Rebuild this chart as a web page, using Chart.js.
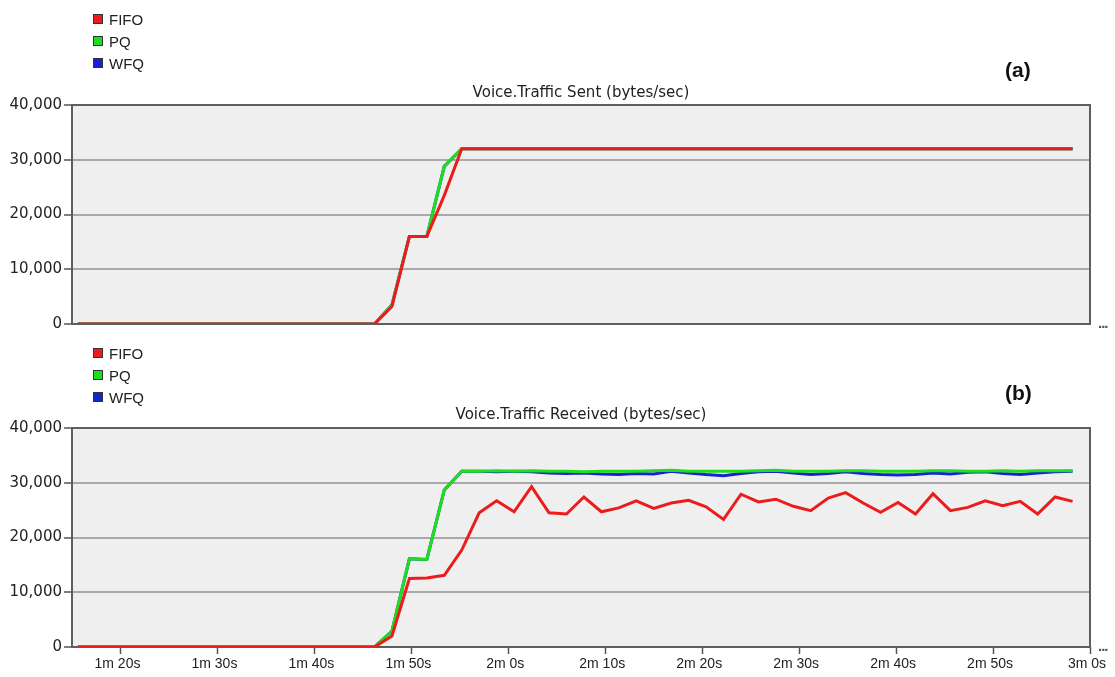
<!DOCTYPE html>
<html>
<head>
<meta charset="utf-8">
<script src="https://cdn.jsdelivr.net/npm/chart.js@4/dist/chart.umd.min.js"></script>
<style>
  body { margin: 0; background: #fff; font-family: "Liberation Sans", Arial, sans-serif; }
  #page { position: relative; width: 1115px; height: 677px; overflow: hidden; }
  canvas { position: absolute; left: 0; }
  #sent { top: 0; }
  #recv { top: 338px; }
  .legend { position: absolute; left: 93px; font-size: 15px; color: #222; }
  .legend div { display: flex; align-items: center; height: 22px; }
  .legend span { display: inline-block; width: 8px; height: 8px; border: 1px solid #333; margin-right: 6px; }
  .panel { position: absolute; left: 1005px; font-size: 21px; font-weight: bold; color: #111; line-height: 24px; }
  .more { position: absolute; left: 1098px; font-size: 15px; font-weight: bold; color: #555; letter-spacing: -1px; }
</style>
</head>
<body>
<div id="page">
  <canvas id="sent" width="1115" height="338"></canvas>
  <canvas id="recv" width="1115" height="339"></canvas>
  <div class="legend" id="legendSent" style="top:8px"></div>
  <div class="legend" id="legendRecv" style="top:342px"></div>
  <div class="panel" style="top:58px">(a)</div>
  <div class="panel" style="top:381px">(b)</div>
  <div class="more" style="top:314px">...</div>
  <div class="more" style="top:637px">...</div>
</div>
<script>
// sample times in seconds (one value every 1.8 s)
var times = [75.6, 77.4, 79.2, 81.0, 82.8, 84.6, 86.4, 88.2, 90.0, 91.8, 93.6, 95.4, 97.2, 99.0, 100.8, 102.6, 104.4, 106.2,
    108.0, 109.8, 111.6, 113.4, 115.2, 117.0, 118.8, 120.6, 122.4, 124.2, 126.0, 127.8, 129.6, 131.4, 133.2, 135.0,
    136.8, 138.6, 140.4, 142.2, 144.0, 145.8, 147.6, 149.4, 151.2, 153.0, 154.8, 156.6, 158.4, 160.2, 162.0, 163.8,
    165.6, 167.4, 169.2, 171.0, 172.8, 174.6, 176.4, 178.2];

var tickSeconds = [80, 90, 100, 110, 120, 130, 140, 150, 160, 170, 180];
var tickLabels = ['1m 20s', '1m 30s', '1m 40s', '1m 50s', '2m 0s', '2m 10s', '2m 20s', '2m 30s', '2m 40s', '2m 50s', '3m 0s'];
var valueTicks = [0, 10000, 20000, 30000, 40000];

var seriesNames = ['FIFO', 'PQ', 'WFQ'];
var seriesColors = ['rgb(236,28,28)', 'rgb(30,222,30)', 'rgb(22,34,214)'];

// (a) Voice.Traffic Sent
var sentFifo = [0, 0, 0, 0, 0, 0, 0, 0, 0, 0, 0, 0, 0, 0, 0, 0, 0, 0,
    3200, 16000, 16000, 23500, 32000, 32000, 32000, 32000, 32000, 32000, 32000, 32000, 32000, 32000, 32000, 32000,
    32000, 32000, 32000, 32000, 32000, 32000, 32000, 32000, 32000, 32000, 32000, 32000, 32000, 32000, 32000, 32000,
    32000, 32000, 32000, 32000, 32000, 32000, 32000, 32000];
var sentPq = [0, 0, 0, 0, 0, 0, 0, 0, 0, 0, 0, 0, 0, 0, 0, 0, 0, 0,
    3500, 16000, 16000, 28800, 32000, 32000, 32000, 32000, 32000, 32000, 32000, 32000, 32000, 32000, 32000, 32000,
    32000, 32000, 32000, 32000, 32000, 32000, 32000, 32000, 32000, 32000, 32000, 32000, 32000, 32000, 32000, 32000,
    32000, 32000, 32000, 32000, 32000, 32000, 32000, 32000];
var sentWfq = [0, 0, 0, 0, 0, 0, 0, 0, 0, 0, 0, 0, 0, 0, 0, 0, 0, 0,
    3500, 16000, 16000, 28800, 32000, 32000, 32000, 32000, 32000, 32000, 32000, 32000, 32000, 32000, 32000, 32000,
    32000, 32000, 32000, 32000, 32000, 32000, 32000, 32000, 32000, 32000, 32000, 32000, 32000, 32000, 32000, 32000,
    32000, 32000, 32000, 32000, 32000, 32000, 32000, 32000];

// (b) Voice.Traffic Received
var recvFifo = [0, 0, 0, 0, 0, 0, 0, 0, 0, 0, 0, 0, 0, 0, 0, 0, 0, 0,
    2000, 12500, 12600, 13100, 17700, 24500, 26700, 24700, 29300, 24500, 24300, 27400, 24700, 25400, 26700, 25300,
    26300, 26800, 25600, 23300, 27900, 26500, 27000, 25700, 24900, 27200, 28200, 26300, 24600, 26400, 24300, 28000,
    24900, 25500, 26700, 25800, 26600, 24300, 27400, 26600];
var recvPq = [0, 0, 0, 0, 0, 0, 0, 0, 0, 0, 0, 0, 0, 0, 0, 0, 0, 0,
    2900, 16100, 16000, 28700, 32100, 32100, 32200, 32100, 32200, 32100, 32100, 32000, 32100, 32100, 32100, 32200,
    32300, 32100, 32100, 32100, 32100, 32200, 32300, 32100, 32100, 32100, 32200, 32200, 32100, 32100, 32100, 32200,
    32200, 32100, 32100, 32200, 32100, 32200, 32200, 32200];
var recvWfq = [0, 0, 0, 0, 0, 0, 0, 0, 0, 0, 0, 0, 0, 0, 0, 0, 0, 0,
    2900, 16100, 16000, 28700, 32100, 32100, 32000, 32100, 32000, 31800, 31700, 31800, 31600, 31500, 31700, 31600,
    32100, 31800, 31500, 31300, 31700, 32000, 32100, 31800, 31500, 31700, 32000, 31700, 31500, 31400, 31500, 31800,
    31600, 31900, 32000, 31700, 31500, 31800, 32000, 32100];

function toPoints(vals) {
    return times.map(function(t, i) { return {x: t, y: vals[i]}; });
}

// grey plot background and dark frame round the chart area
var plotFrame = {
    id: 'plotFrame',
    beforeDraw: function(chart) {
        var a = chart.chartArea, ctx = chart.ctx;
        ctx.save();
        ctx.fillStyle = '#efefef';
        ctx.fillRect(a.left, a.top, a.right - a.left, a.bottom - a.top);
        ctx.restore();
    },
    beforeDatasetsDraw: function(chart) {
        var a = chart.chartArea, ctx = chart.ctx;
        ctx.save();
        ctx.strokeStyle = '#5e5e5e';
        ctx.lineWidth = 2;
        ctx.strokeRect(a.left, a.top, a.right - a.left, a.bottom - a.top);
        ctx.restore();
    }
};

function buildLegend(id) {
    var box = document.getElementById(id);
    seriesNames.forEach(function(name, i) {
        var row = document.createElement('div');
        row.innerHTML = '<span style="background:' + seriesColors[i] + '"></span>' + name;
        box.appendChild(row);
    });
}

function makeChart(canvasId, title, series, showTime) {
    var wide = '"DejaVu Sans", Verdana, sans-serif';
    return new Chart(document.getElementById(canvasId), {
        type: 'line',
        data: {
            datasets: series.map(function(vals, i) {
                return {
                    label: seriesNames[i],
                    data: toPoints(vals),
                    borderColor: seriesColors[i],
                    backgroundColor: seriesColors[i],
                    borderWidth: 3,
                    pointRadius: 0,
                    tension: 0,
                    fill: false
                };
            })
        },
        options: {
            responsive: false,
            animation: false,
            layout: {padding: {left: 0, right: 25, top: 0, bottom: showTime ? 0 : 14}},
            plugins: {
                legend: {display: false},
                tooltip: {enabled: false},
                title: {
                    display: true,
                    text: title,
                    fullSize: false,
                    color: '#222',
                    font: {family: wide, size: 15, weight: 'normal'},
                    padding: showTime ? {top: 68, bottom: 4} : {top: 84, bottom: 3}
                }
            },
            scales: {
                x: {
                    type: 'linear',
                    min: 75,
                    max: 180,
                    display: showTime,
                    afterBuildTicks: function(scale) {
                        scale.ticks = tickSeconds.map(function(v) { return {value: v}; });
                    },
                    afterFit: function(scale) { scale.height = showTime ? 30 : 0; },
                    ticks: {
                        color: '#222',
                        font: {family: '"Liberation Sans", Arial, sans-serif', size: 14},
                        padding: 2,
                        labelOffset: -3,
                        maxRotation: 0,
                        autoSkip: false,
                        callback: function(value) {
                            var i = tickSeconds.indexOf(value);
                            return i >= 0 ? tickLabels[i] : '';
                        }
                    },
                    grid: {drawOnChartArea: false, drawTicks: true, tickLength: 7, tickColor: '#555', tickWidth: 1.5},
                    border: {display: false}
                },
                y: {
                    min: 0,
                    max: 40000,
                    afterBuildTicks: function(scale) {
                        scale.ticks = valueTicks.map(function(v) { return {value: v}; });
                    },
                    afterFit: function(scale) { scale.width = 72; },
                    ticks: {
                        color: '#222',
                        font: {family: wide, size: 15},
                        padding: 2,
                        callback: function(value) { return value.toLocaleString('en-US'); }
                    },
                    grid: {
                        color: function(ctx) {
                            var v = ctx.tick ? ctx.tick.value : 0;
                            return (v === 0 || v === 40000) ? 'rgba(0,0,0,0)' : '#a9a9a9';
                        },
                        lineWidth: 2,
                        tickLength: 8,
                        tickColor: '#555',
                        tickWidth: 1.5
                    },
                    border: {display: false}
                }
            }
        },
        plugins: [plotFrame]
    });
}

buildLegend('legendSent');
buildLegend('legendRecv');
makeChart('sent', 'Voice.Traffic Sent (bytes/sec)', [sentFifo, sentPq, sentWfq], false);
makeChart('recv', 'Voice.Traffic Received (bytes/sec)', [recvFifo, recvPq, recvWfq], true);
</script>
</body>
</html>
